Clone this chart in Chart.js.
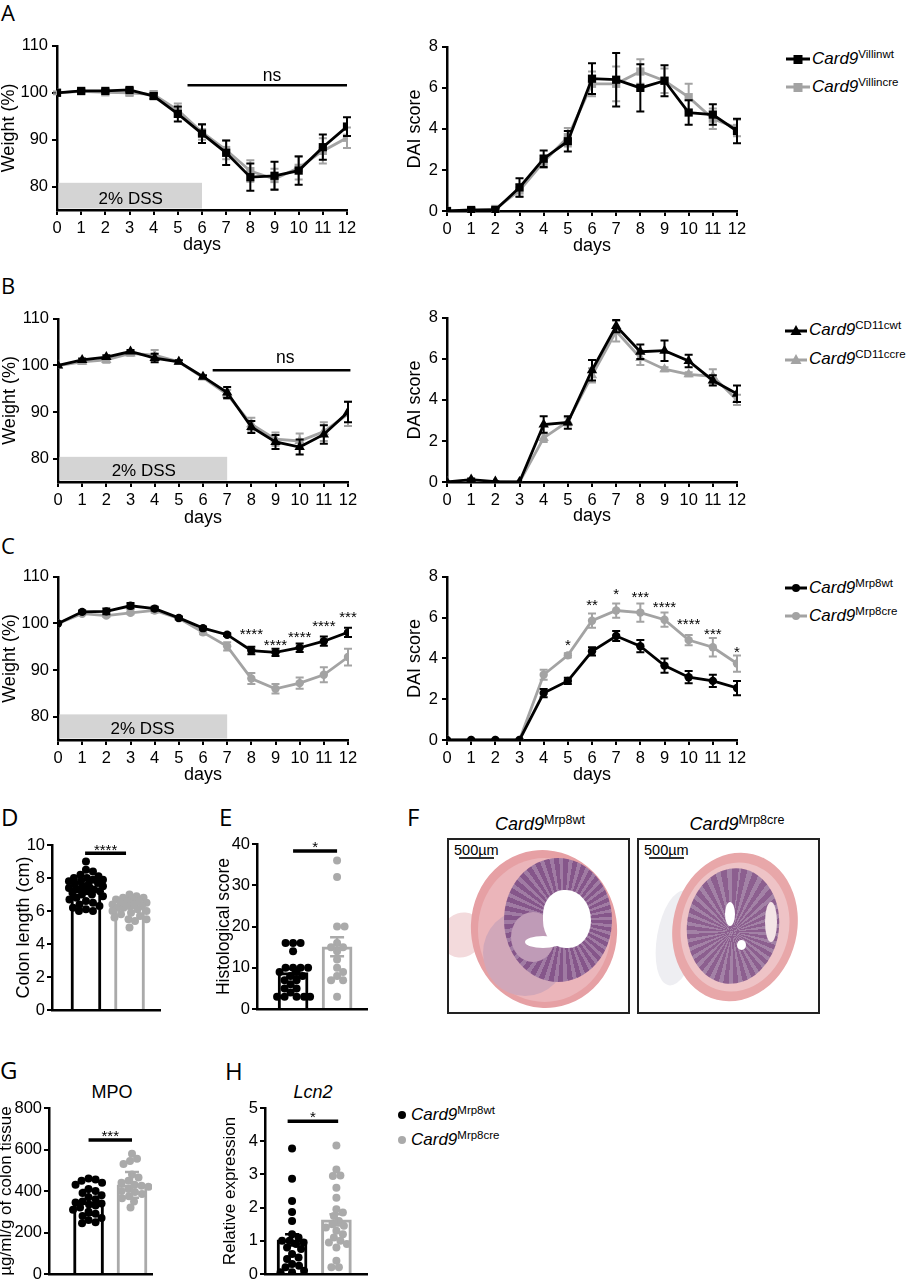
<!DOCTYPE html>
<html><head><meta charset="utf-8">
<script src="https://cdn.jsdelivr.net/npm/chart.js@4.4.1/dist/chart.umd.min.js"></script>
<style>
body{margin:0;background:#fff;width:908px;height:1280px;position:relative;overflow:hidden;font-family:'Liberation Sans',Arial,sans-serif;color:#000}
canvas{position:absolute}
.pl{position:absolute;font-family:'Open Sans',sans-serif;line-height:1;font-size:22px}
.pl2{position:absolute;font-family:'Open Sans',sans-serif;line-height:1;font-size:24px}
.li{position:absolute;height:20px;display:flex;align-items:center;font-size:17px;white-space:nowrap}
.li svg{margin-right:2px}
sup{font-size:11.5px;position:relative;top:-5px;vertical-align:baseline}
.ft{position:absolute;font-size:18px;white-space:nowrap;transform:translateX(-50%)}
.ft sup{font-size:12.5px;top:-6px}
.hbox{position:absolute;width:179px;height:172px;border:2px solid #222;overflow:hidden;background:#fff}
.hbox div{position:absolute}
.el{border-radius:50%}
.scl{left:5px;top:3px;font-size:14.5px;line-height:1;z-index:5}
.sbar{left:10px;top:17px;width:35px;height:1.5px;background:#333;z-index:5}
.ttl{position:absolute;font-size:18px;transform:translateX(-50%);white-space:nowrap}
</style></head><body>

<div class="pl" style="left:1px;top:1px">A</div>
<div class="pl" style="left:1px;top:274px">B</div>
<div class="pl" style="left:1px;top:534px">C</div>
<div class="pl2" style="left:1px;top:805px">D</div>
<div class="pl2" style="left:219px;top:805px">E</div>
<div class="pl2" style="left:407px;top:805px">F</div>
<div class="pl2" style="left:0px;top:1058px">G</div>
<div class="pl2" style="left:225px;top:1059px">H</div>

<!-- legends -->
<div class="li" style="left:786px;top:49px"><svg width="24" height="12"><line x1="0" y1="6" x2="24" y2="6" stroke="#000" stroke-width="3"/><rect x="7.5" y="2" width="9" height="9" fill="#000"/></svg><i>Card9</i><sup>Villinwt</sup></div>
<div class="li" style="left:786px;top:77px"><svg width="24" height="12"><line x1="0" y1="6" x2="24" y2="6" stroke="#a3a3a3" stroke-width="3"/><rect x="7.5" y="2" width="9" height="9" fill="#a3a3a3"/></svg><i>Card9</i><sup>Villincre</sup></div>
<div class="li" style="left:785px;top:320px"><svg width="22" height="12"><line x1="0" y1="7" x2="22" y2="7" stroke="#000" stroke-width="3"/><polygon points="11,1 16.5,11 5.5,11" fill="#000"/></svg><i>Card9</i><sup>CD11cwt</sup></div>
<div class="li" style="left:785px;top:349px"><svg width="22" height="12"><line x1="0" y1="7" x2="22" y2="7" stroke="#a3a3a3" stroke-width="3"/><polygon points="11,1 16.5,11 5.5,11" fill="#a3a3a3"/></svg><i>Card9</i><sup>CD11ccre</sup></div>
<div class="li" style="left:785px;top:578px"><svg width="22" height="12"><line x1="0" y1="6" x2="22" y2="6" stroke="#000" stroke-width="3"/><circle cx="11" cy="6" r="4" fill="#000"/></svg><i>Card9</i><sup>Mrp8wt</sup></div>
<div class="li" style="left:785px;top:606px"><svg width="22" height="12"><line x1="0" y1="6" x2="22" y2="6" stroke="#a3a3a3" stroke-width="3"/><circle cx="11" cy="6" r="4" fill="#a3a3a3"/></svg><i>Card9</i><sup>Mrp8cre</sup></div>
<div class="li" style="left:397px;top:1105px"><svg width="12" height="12"><circle cx="5" cy="6" r="4" fill="#000"/></svg><i>Card9</i><sup>Mrp8wt</sup></div>
<div class="li" style="left:397px;top:1130px"><svg width="12" height="12"><circle cx="5" cy="6" r="4" fill="#aaaaaa"/></svg><i>Card9</i><sup>Mrp8cre</sup></div>

<!-- panel F -->
<div class="ft" style="left:540px;top:814px"><i>Card9</i><sup>Mrp8wt</sup></div>
<div class="ft" style="left:737px;top:814px"><i>Card9</i><sup>Mrp8cre</sup></div>
<div class="hbox" style="left:447px;top:838px">
  <div class="scl">500µm</div><div class="sbar"></div>
  <div class="el" style="left:-8px;top:72px;width:42px;height:46px;background:#f3dadc;transform:rotate(30deg)"></div>
  <div class="el" style="left:22px;top:10px;width:146px;height:158px;background:#e6a0a4;transform:rotate(-8deg)"></div>
  <div class="el" style="left:29px;top:18px;width:133px;height:144px;background:#ebb5ba"></div>
  <div class="el" style="left:34px;top:70px;width:84px;height:86px;background:#d1a7b9"></div>
  <div class="el" style="left:55px;top:18px;width:108px;height:124px;background:repeating-conic-gradient(from 0deg at 55% 50%,#85568a 0deg 5deg,#a07ba3 5deg 9deg)"></div>
  <div class="el" style="left:62px;top:72px;width:44px;height:50px;background:#bf9bb7"></div>
  <div style="left:94px;top:50px;width:48px;height:58px;background:#fff;border-radius:45% 55% 50% 50%"></div>
  <div style="left:76px;top:96px;width:36px;height:12px;background:#fff;border-radius:50%"></div>
</div>
<div class="hbox" style="left:637px;top:838px">
  <div class="scl">500µm</div><div class="sbar"></div>
  <div class="el" style="left:18px;top:50px;width:40px;height:96px;background:#eeeef2;transform:rotate(10deg)"></div>
  <div class="el" style="left:34px;top:12px;width:124px;height:150px;background:#e8a7a9;transform:rotate(14deg)"></div>
  <div class="el" style="left:42px;top:22px;width:108px;height:130px;background:#eec3c6;transform:rotate(12deg)"></div>
  <div class="el" style="left:48px;top:28px;width:92px;height:116px;background:repeating-conic-gradient(from 0deg at 50% 55%,#8c5f8f 0deg 6deg,#a382a6 6deg 11deg);transform:rotate(8deg)"></div>
  <div class="el" style="left:126px;top:62px;width:12px;height:40px;background:#f3e4e6"></div>
  <div class="el" style="left:86px;top:62px;width:10px;height:24px;background:#fff"></div>
  <div class="el" style="left:98px;top:100px;width:9px;height:10px;background:#fff"></div>
</div>

<div class="ttl" style="left:112px;top:1082px">MPO</div>
<div class="ttl" style="left:313px;top:1082px"><i>Lcn2</i></div>

<script>
// ---------------- DATA ----------------
const days = [0,1,2,3,4,5,6,7,8,9,10,11,12];
const weightTicks = [80,90,100,110];
const daiTicks = [0,2,4,6,8];

// Panel A (Villin)
const aWeightWt    = [100,100.4,100.4,100.6,99.3,95.5,91.3,87.2,82.0,82.3,83.4,88.4,92.8];
const aWeightWtErr = [0,0.3,0.3,0.4,0.6,1.6,2.0,2.6,2.9,3.0,3.0,2.7,2.0];
const aWeightCre   = [100,100.3,100.1,100.0,99.6,96.3,91.6,87.8,83.3,81.6,84.0,87.6,90.4];
const aWeightCreErr= [0.3,0.3,0.4,0.5,0.8,1.4,1.6,2.0,2.3,2.2,2.5,2.7,2.2];
const aDaiWt       = [0,0.05,0.05,1.15,2.55,3.4,6.45,6.4,6.0,6.35,4.8,4.7,3.9];
const aDaiWtErr    = [0,0.1,0.1,0.45,0.4,0.5,0.75,1.3,1.15,0.75,0.6,0.5,0.6];
const aDaiCre      = [0,0,0.1,1.0,2.4,3.6,6.2,6.2,6.8,6.35,5.55,4.5,4.05];
const aDaiCreErr   = [0,0.05,0.1,0.3,0.3,0.45,0.6,0.85,0.6,0.6,0.65,0.5,0.4];

// Panel B (CD11c)
const bWeightWt    = [100,101.2,101.8,103.0,101.6,100.8,97.6,94.2,86.8,83.6,82.5,85.2,90.0];
const bWeightWtErr = [0,0.3,0.4,0.3,0.9,0.3,0.3,1.2,1.3,1.5,1.6,2.0,2.2];
const bWeightCre   = [100,100.8,101.2,102.6,102.2,100.8,97.4,93.8,87.4,84.2,83.8,85.8,89.6];
const bWeightCreErr= [0,0.5,0.6,0.5,1.1,0.3,0.3,1.0,1.4,1.4,1.6,2.0,2.6];
const bDaiWt       = [0,0.12,0.02,0,2.8,2.9,5.45,7.6,6.35,6.4,5.9,4.95,4.3];
const bDaiWtErr    = [0,0.05,0.02,0,0.4,0.3,0.5,0.3,0.35,0.5,0.3,0.25,0.4];
const bDaiCre      = [0,0.02,0.02,0,2.15,2.95,5.2,7.35,6.05,5.5,5.25,5.15,4.0];
const bDaiCreErr   = [0,0,0,0,0.2,0.2,0.35,0.5,0.35,0.1,0.1,0.35,0.25];

// Panel C (Mrp8)
const cWeightWt    = [100,102.5,102.6,103.8,103.2,101.2,99.0,97.6,94.2,93.8,94.8,96.2,98.1];
const cWeightWtErr = [0,0.3,0.6,0.6,0.4,0.3,0.3,0.3,0.8,0.8,0.9,1.0,1.0];
const cWeightCre   = [100,102.1,101.7,102.3,102.8,101.1,98.1,95.1,88.2,86.0,87.2,89.0,92.8];
const cWeightCreErr= [0,0.3,0.3,0.3,0.5,0.3,0.4,0.9,1.2,1.0,1.2,1.6,1.8];
const cDaiWt       = [0,0,0,0,2.3,2.9,4.35,5.1,4.6,3.65,3.08,2.9,2.55];
const cDaiWtErr    = [0,0,0,0,0.2,0.15,0.2,0.25,0.3,0.35,0.3,0.3,0.35];
const cDaiCre      = [0,0,0,0,3.2,4.15,5.85,6.35,6.25,5.9,4.9,4.55,3.75];
const cDaiCreErr   = [0,0,0,0,0.25,0.1,0.35,0.35,0.45,0.35,0.25,0.45,0.4];

// DSS period (days) per panel and significance annotations
const dssEnd = [6,7,7];
const dssTop = [80.8,80.4,80.5];
const nsLineA = [5.4,12,101.6];
const nsLineB = [6.4,12.1,99.0];
const cWeightStarDays = [8,9,10,11,12];
const cWeightStarY    = [98.5,96.2,97.9,100.2,102.15];
const cWeightStars    = ['****','****','****','****','***'];
const cDaiStarDays = [5,6,7,8,9,10,11,12];
const cDaiStarY    = [4.85,6.79,7.32,7.18,6.69,5.87,5.38,4.51];
const cDaiStars    = ['*','**','*','***','****','****','***','*'];

// D colon length
const dWt  = [9.0,8.5,8.4,8.2,8.1,8.0,8.0,7.9,7.9,7.8,7.8,7.7,7.6,7.6,7.5,7.5,7.4,7.3,7.3,7.2,7.2,7.1,7.0,7.0,6.9,6.8,6.7,6.6,6.5,6.4,6.3,6.2,6.1,6.0,6.0];
const dCre = [7.0,6.9,6.8,6.8,6.7,6.7,6.6,6.6,6.5,6.5,6.4,6.4,6.3,6.3,6.2,6.2,6.1,6.0,6.0,5.9,5.8,5.7,5.6,5.5,5.5,5.4,5.0];
const dMean = [7.4,6.3], dErr = [0.12,0.1];
// E histological score
const eWt  = [16,16,16,14,10,10,10,10,9,9,8,8,7,7,6,5,5,4,3,3,3,3,3];
const eCre = [36,32,20,20,16,15,15,14,12,10,9,8,7,7,3];
const eMean = [8.8,15.1], eErr = [0.9,2.3];
// G MPO
const gWt  = [460,455,450,440,430,410,400,390,380,370,360,350,345,340,335,330,320,310,300,290,280,270,260,250,245];
const gCre = [580,555,545,530,480,465,450,440,430,425,420,410,400,395,385,375,365,350,320];
const gMean = [345,430], gErr = [60,62];
// H Lcn2
const hWt  = [3.78,2.87,2.2,1.87,1.6,1.2,1.1,1.0,1.0,0.95,0.9,0.8,0.75,0.6,0.5,0.45,0.3,0.25,0.2,0.1,0.05,0.05];
const hCre = [3.87,3.15,2.97,2.95,2.6,2.3,1.95,1.85,1.75,1.6,1.5,1.45,1.4,1.3,1.2,1.1,1.0,0.95,0.9,0.8,0.4,0.2,0.2];
const hMean = [1.03,1.63], hErr = [0.17,0.17];

// ---------------- RENDERING ----------------
const GRAY = '#a3a3a3', PGRAY = '#aaaaaa';
Chart.defaults.font.family = "'Liberation Sans', Arial, sans-serif";
Chart.defaults.color = '#000';

function mkCanvas(left, top, w, h){
  const c = document.createElement('canvas');
  c.style.left = left+'px'; c.style.top = top+'px';
  c.width = w; c.height = h; c.style.width = w+'px'; c.style.height = h+'px';
  document.body.appendChild(c); return c;
}
const errPlugin = {
  id:'err',
  beforeDatasetDraw(ch, args){
    const ds = ch.data.datasets[args.index];
    if(!ds.errors) return;
    const ctx = ch.ctx, xs = ch.scales.x, ys = ch.scales.y;
    ctx.save(); ctx.strokeStyle = ds.borderColor; ctx.lineWidth = 2;
    ds.data.forEach((p,i)=>{
      const e = ds.errors[i]; if(!e) return;
      const x = xs.getPixelForValue(p.x), y1 = ys.getPixelForValue(p.y+e), y0 = ys.getPixelForValue(p.y-e);
      ctx.beginPath(); ctx.moveTo(x,y0); ctx.lineTo(x,y1);
      ctx.moveTo(x-4,y1); ctx.lineTo(x+4,y1); ctx.moveTo(x-4,y0); ctx.lineTo(x+4,y0); ctx.stroke();
    });
    ctx.restore();
  }
};
const barErrPlugin = {
  id:'barerr',
  afterDatasetsDraw(ch){
    const ctx = ch.ctx, xs = ch.scales.x, ys = ch.scales.y;
    ch.data.datasets.forEach(ds=>{
      if(!ds.barErrs) return;
      ds.data.forEach((p,i)=>{
        const e = ds.barErrs[i];
        const x = xs.getPixelForValue(p.x), y1 = ys.getPixelForValue(p.y+e), y0 = ys.getPixelForValue(p.y-e);
        ctx.save(); ctx.strokeStyle = ds.borderColor[i]; ctx.lineWidth = 2.5;
        ctx.beginPath(); ctx.moveTo(x,y0); ctx.lineTo(x,y1);
        ctx.moveTo(x-7,y1); ctx.lineTo(x+7,y1); ctx.moveTo(x-7,y0); ctx.lineTo(x+7,y0); ctx.stroke();
        ctx.restore();
      });
    });
  }
};
function anno(a){
  return {
    id:'anno',
    beforeDatasetsDraw(ch){
      const ctx = ch.ctx, xs = ch.scales.x, ys = ch.scales.y;
      (a.rects||[]).forEach(r=>{
        const X0 = xs.getPixelForValue(r.x0)+1.5, X1 = xs.getPixelForValue(r.x1);
        const Y0 = ys.getPixelForValue(ys.min)-1.5, Y1 = ys.getPixelForValue(r.y1);
        ctx.save(); ctx.fillStyle = '#d4d4d4'; ctx.fillRect(X0,Y1,X1-X0,Y0-Y1);
        ctx.fillStyle = '#000'; ctx.font = "17px 'Liberation Sans', Arial"; ctx.textAlign='center'; ctx.textBaseline='middle';
        ctx.fillText(r.text, xs.getPixelForValue(r.tx), ys.getPixelForValue(r.ty));
        ctx.restore();
      });
    },
    afterDatasetsDraw(ch){
      const ctx = ch.ctx, xs = ch.scales.x, ys = ch.scales.y;
      (a.lines||[]).forEach(l=>{
        ctx.save(); ctx.strokeStyle='#000'; ctx.lineWidth = l.w||2.5;
        const y = ys.getPixelForValue(l.y);
        ctx.beginPath(); ctx.moveTo(xs.getPixelForValue(l.x0), y); ctx.lineTo(xs.getPixelForValue(l.x1), y); ctx.stroke();
        ctx.restore();
      });
      (a.texts||[]).forEach(t=>{
        ctx.save(); ctx.fillStyle='#000'; ctx.font = (t.size||15)+"px 'Liberation Sans', Arial"; ctx.textAlign='center';
        let y = ys.getPixelForValue(t.y);
        if(t.star){ ctx.textBaseline='alphabetic'; y += 0.58*(t.size||15); } else ctx.textBaseline='middle';
        ctx.fillText(t.t, xs.getPixelForValue(t.x), y);
        ctx.restore();
      });
    }
  };
}
function axisStyle(){
  return {
    grid:{display:true, drawOnChartArea:false, drawTicks:true, tickLength:5, color:'#000', lineWidth:2},
    border:{display:true, color:'#000', width:2.5}
  };
}
function lineChart(box, s){
  const PT = 12, PR = 14;
  const c = mkCanvas(box.l-box.yW, box.t-PT, box.r-box.l+box.yW+PR, box.b-box.t+box.xH+PT);
  const pts = arr => days.map((d,i)=>({x:d, y:arr[i]}));
  const mk = (arr, err, col) => ({data:pts(arr), errors:err, borderColor:col, backgroundColor:col,
    pointBackgroundColor:col, pointStyle:s.marker, pointRadius:s.r, pointBorderWidth:0, borderWidth:2.8, tension:0});
  new Chart(c, {
    type:'line',
    data:{datasets:[mk(s.wt,s.wtErr,'#000'), mk(s.cre,s.creErr,GRAY)]},
    options:{
      responsive:false, animation:false, events:[],
      layout:{padding:{top:PT,right:PR,left:0,bottom:0}},
      plugins:{legend:{display:false}, tooltip:{enabled:false}},
      scales:{
        x:Object.assign(axisStyle(), {type:'linear', min:0, max:12,
          afterFit:sc=>{sc.height = box.xH;},
          ticks:{stepSize:1, autoSkip:false, maxRotation:0, font:{size:16.5}, padding:4},
          title:{display:true, text:'days', font:{size:18}, padding:0}}),
        y:Object.assign(axisStyle(), {min:s.yMin, max:s.yMax,
          afterFit:sc=>{sc.width = box.yW;},
          afterBuildTicks:sc=>{sc.ticks = s.yTicks.map(v=>({value:v}));},
          ticks:{font:{size:16.5}, padding:4},
          title:{display:true, text:s.yTitle, font:{size:18}, padding:0}})
      }
    },
    plugins:[errPlugin, anno(s.anno||{})]
  });
}
function swarm(vals, center, pxX, pxY, r, maxHalf){
  const placed = [], res = new Array(vals.length);
  const order = vals.map((v,i)=>i).sort((a,b)=>vals[b]-vals[a]);
  const cands = [0];
  for(let k=0.5;k<=maxHalf;k+=0.5){ cands.push(k); cands.push(-k); }
  const minD = 2*r*0.88;
  order.forEach(i=>{
    const py = vals[i]*pxY;
    let chosen = null, bestD = -1, bestX = 0;
    for(const cx of cands){
      let md = Infinity;
      for(const p of placed){ const d = Math.hypot(p.x-cx, p.y-py); if(d<md) md=d; }
      if(md >= minD){ chosen = cx; break; }
      if(md > bestD){ bestD = md; bestX = cx; }
    }
    if(chosen===null) chosen = bestX;
    placed.push({x:chosen, y:py});
    res[i] = center + chosen/pxX;
  });
  return res;
}
function barChart(box, s){
  const PT = 12, PR = 4;
  const xH = 12;
  const c = mkCanvas(box.l-box.yW, box.t-PT, box.r-box.l+box.yW+PR, box.b-box.t+xH+PT);
  const pxX = (box.r-box.l)/(s.xMax-s.xMin), pxY = (box.b-box.t)/(s.yMax-s.yMin);
  const jw = swarm(s.wt, 0, pxX, pxY, 4, 17), jc = swarm(s.cre, 1, pxX, pxY, 4, 17);
  new Chart(c, {
    type:'bar',
    data:{datasets:[
      {type:'bar', data:[{x:0,y:s.mean[0]},{x:1,y:s.mean[1]}], barErrs:s.err, barThickness:30,
       backgroundColor:'#fff', borderColor:['#000',PGRAY], borderWidth:3, borderSkipped:'bottom', order:3},
      {type:'scatter', data:s.wt.map((v,i)=>({x:jw[i],y:v})), pointRadius:4, pointBorderWidth:0, backgroundColor:'#000', pointBackgroundColor:'#000', showLine:false, order:1},
      {type:'scatter', data:s.cre.map((v,i)=>({x:jc[i],y:v})), pointRadius:4, pointBorderWidth:0, backgroundColor:PGRAY, pointBackgroundColor:PGRAY, showLine:false, order:2}
    ]},
    options:{
      responsive:false, animation:false, events:[],
      layout:{padding:{top:PT,right:PR,left:0,bottom:0}},
      plugins:{legend:{display:false}, tooltip:{enabled:false}},
      scales:{
        x:{type:'linear', min:s.xMin, max:s.xMax, offset:false, afterFit:sc=>{sc.height = xH;},
           ticks:{display:false}, grid:{display:false}, border:{display:true,color:'#000',width:2.5}},
        y:Object.assign(axisStyle(), {min:s.yMin, max:s.yMax,
          afterFit:sc=>{sc.width = box.yW;},
          afterBuildTicks:sc=>{sc.ticks = s.yTicks.map(v=>({value:v}));},
          ticks:{font:{size:16.5}, padding:2},
          title:{display:true, text:s.yTitle, font:{size:s.tSize||18}, padding:0}})
      }
    },
    plugins:[anno({lines:[{x0:s.sig[0],x1:s.sig[1],y:s.sig[2],w:3.5}], texts:[{x:s.sig[3],y:s.sig[4],t:s.sig[5],size:15,star:true}]}), barErrPlugin]
  });
}

// ---- Line charts ----
lineChart({l:57,t:44,r:347,b:210,yW:59,xH:46},
  {wt:aWeightWt, wtErr:aWeightWtErr, cre:aWeightCre, creErr:aWeightCreErr, marker:'rect', r:5.8,
   yMin:75, yMax:110, yTicks:weightTicks, yTitle:'Weight (%)',
   anno:{rects:[{x0:0,x1:dssEnd[0],y1:dssTop[0],text:'2% DSS',tx:3.05,ty:77.3}],
         lines:[{x0:nsLineA[0],x1:nsLineA[1],y:nsLineA[2]}], texts:[{x:8.9,y:103.6,t:'ns',size:17.5}]}});
lineChart({l:447,t:45,r:737,b:211,yW:43,xH:46},
  {wt:aDaiWt, wtErr:aDaiWtErr, cre:aDaiCre, creErr:aDaiCreErr, marker:'rect', r:5.8,
   yMin:0, yMax:8, yTicks:daiTicks, yTitle:'DAI score'});
lineChart({l:58,t:317,r:348,b:482,yW:59,xH:47},
  {wt:bWeightWt, wtErr:bWeightWtErr, cre:bWeightCre, creErr:bWeightCreErr, marker:'triangle', r:6,
   yMin:75, yMax:110, yTicks:weightTicks, yTitle:'Weight (%)',
   anno:{rects:[{x0:0,x1:dssEnd[1],y1:dssTop[1],text:'2% DSS',tx:3.55,ty:77.4}],
         lines:[{x0:nsLineB[0],x1:nsLineB[1],y:nsLineB[2]}], texts:[{x:9.4,y:101.5,t:'ns',size:17.5}]}});
lineChart({l:447,t:316,r:737,b:482,yW:43,xH:45},
  {wt:bDaiWt, wtErr:bDaiWtErr, cre:bDaiCre, creErr:bDaiCreErr, marker:'triangle', r:6,
   yMin:0, yMax:8, yTicks:daiTicks, yTitle:'DAI score'});
lineChart({l:58,t:575,r:348,b:740,yW:59,xH:46},
  {wt:cWeightWt, wtErr:cWeightWtErr, cre:cWeightCre, creErr:cWeightCreErr, marker:'circle', r:4.2,
   yMin:75, yMax:110, yTicks:weightTicks, yTitle:'Weight (%)',
   anno:{rects:[{x0:0,x1:dssEnd[2],y1:dssTop[2],text:'2% DSS',tx:3.5,ty:77.3}],
         texts:cWeightStarDays.map((d,i)=>({x:d,y:cWeightStarY[i],t:cWeightStars[i],size:15,star:true}))}});
lineChart({l:447,t:575,r:737,b:740,yW:43,xH:46},
  {wt:cDaiWt, wtErr:cDaiWtErr, cre:cDaiCre, creErr:cDaiCreErr, marker:'circle', r:4.2,
   yMin:0, yMax:8, yTicks:daiTicks, yTitle:'DAI score',
   anno:{texts:cDaiStarDays.map((d,i)=>({x:d,y:cDaiStarY[i],t:cDaiStars[i],size:15,star:true}))}});

// ---- Bar + scatter charts ----
barChart({l:52,t:845,r:160,b:1010,yW:39},
  {wt:dWt, cre:dCre, mean:dMean, err:dErr, xMin:-0.78, xMax:1.70, yMin:0, yMax:10, yTicks:[0,2,4,6,8,10],
   yTitle:'Colon length (cm)', sig:[-0.02,0.92,9.5,0.45,9.94,'****']});
barChart({l:257,t:844,r:367,b:1009,yW:43},
  {wt:eWt, cre:eCre, mean:eMean, err:eErr, xMin:-0.82, xMax:1.68, yMin:0, yMax:40, yTicks:[0,10,20,30,40],
   yTitle:'Histological score', tSize:17.5, sig:[0,1,38.3,0.5,40.2,'*']});
barChart({l:49,t:1108,r:152,b:1274,yW:53},
  {wt:gWt, cre:gCre, mean:gMean, err:gErr, xMin:-0.91, xMax:1.46, yMin:0, yMax:800, yTicks:[0,200,400,600,800],
   yTitle:'µg/ml/g of colon tissue', tSize:17, sig:[0,1,646,0.5,684,'***']});
barChart({l:265,t:1108,r:367,b:1274,yW:45},
  {wt:hWt, cre:hCre, mean:hMean, err:hErr, xMin:-0.61, xMax:1.69, yMin:0, yMax:5, yTicks:[0,1,2,3,4,5],
   yTitle:'Relative expression', tSize:17, sig:[-0.1,1.04,4.6,0.47,4.85,'*']});
</script>
</body></html>
